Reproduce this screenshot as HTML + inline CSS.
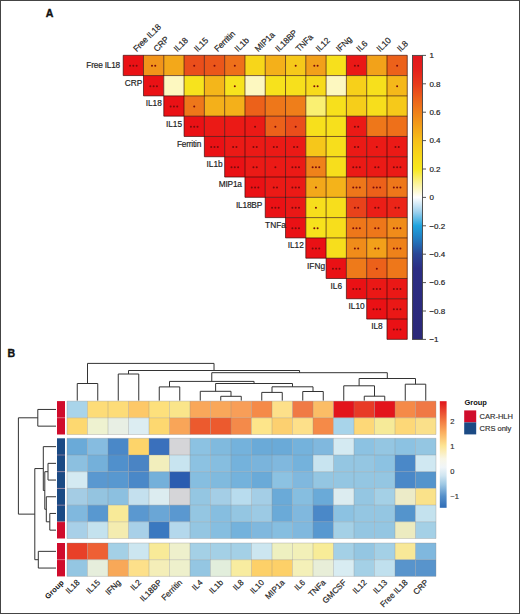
<!DOCTYPE html>
<html><head><meta charset="utf-8"><title>Figure</title>
<style>
html,body{margin:0;padding:0;background:#fff;}
body{width:520px;height:614px;overflow:hidden;}
svg{display:block;font-family:"Liberation Sans", sans-serif;font-kerning:normal;}
text{font-kerning:normal;}
</style></head><body>
<svg width="520" height="614" viewBox="0 0 520 614">
<rect x="0" y="0" width="520" height="614" fill="#fff"/>
<rect x="123.20" y="55.30" width="20.29" height="20.29" fill="#ea1115" />
<rect x="143.49" y="55.30" width="20.29" height="20.29" fill="#f1941a" />
<rect x="163.78" y="55.30" width="20.29" height="20.29" fill="#f3a81a" />
<rect x="184.07" y="55.30" width="20.29" height="20.29" fill="#ea4e1b" />
<rect x="204.36" y="55.30" width="20.29" height="20.29" fill="#eb561a" />
<rect x="224.65" y="55.30" width="20.29" height="20.29" fill="#ee701a" />
<rect x="244.94" y="55.30" width="20.29" height="20.29" fill="#f7d61a" />
<rect x="265.23" y="55.30" width="20.29" height="20.29" fill="#f4b01a" />
<rect x="285.52" y="55.30" width="20.29" height="20.29" fill="#f6c91a" />
<rect x="305.81" y="55.30" width="20.29" height="20.29" fill="#f2a01a" />
<rect x="326.10" y="55.30" width="20.29" height="20.29" fill="#f7e01c" />
<rect x="346.39" y="55.30" width="20.29" height="20.29" fill="#ea1816" />
<rect x="366.68" y="55.30" width="20.29" height="20.29" fill="#f2a21a" />
<rect x="386.97" y="55.30" width="20.29" height="20.29" fill="#ec611a" />
<rect x="143.49" y="75.59" width="20.29" height="20.29" fill="#ea1115" />
<rect x="163.78" y="75.59" width="20.29" height="20.29" fill="#fdf8c0" />
<rect x="184.07" y="75.59" width="20.29" height="20.29" fill="#f7e31d" />
<rect x="204.36" y="75.59" width="20.29" height="20.29" fill="#f4b61a" />
<rect x="224.65" y="75.59" width="20.29" height="20.29" fill="#f7e31d" />
<rect x="244.94" y="75.59" width="20.29" height="20.29" fill="#fdf8c0" />
<rect x="265.23" y="75.59" width="20.29" height="20.29" fill="#f7e21c" />
<rect x="285.52" y="75.59" width="20.29" height="20.29" fill="#f7e01c" />
<rect x="305.81" y="75.59" width="20.29" height="20.29" fill="#f7db1b" />
<rect x="326.10" y="75.59" width="20.29" height="20.29" fill="#fdf8c0" />
<rect x="346.39" y="75.59" width="20.29" height="20.29" fill="#f7d01a" />
<rect x="366.68" y="75.59" width="20.29" height="20.29" fill="#f7e01c" />
<rect x="386.97" y="75.59" width="20.29" height="20.29" fill="#f5b81a" />
<rect x="163.78" y="95.88" width="20.29" height="20.29" fill="#ea1115" />
<rect x="184.07" y="95.88" width="20.29" height="20.29" fill="#ee771a" />
<rect x="204.36" y="95.88" width="20.29" height="20.29" fill="#f4b01a" />
<rect x="224.65" y="95.88" width="20.29" height="20.29" fill="#f4b01a" />
<rect x="244.94" y="95.88" width="20.29" height="20.29" fill="#ec611a" />
<rect x="265.23" y="95.88" width="20.29" height="20.29" fill="#ee771a" />
<rect x="285.52" y="95.88" width="20.29" height="20.29" fill="#ef7e1a" />
<rect x="305.81" y="95.88" width="20.29" height="20.29" fill="#faf072" />
<rect x="326.10" y="95.88" width="20.29" height="20.29" fill="#f7e01c" />
<rect x="346.39" y="95.88" width="20.29" height="20.29" fill="#f6ce1a" />
<rect x="366.68" y="95.88" width="20.29" height="20.29" fill="#f7de1c" />
<rect x="386.97" y="95.88" width="20.29" height="20.29" fill="#f6c91a" />
<rect x="184.07" y="116.17" width="20.29" height="20.29" fill="#ea1115" />
<rect x="204.36" y="116.17" width="20.29" height="20.29" fill="#eb1a16" />
<rect x="224.65" y="116.17" width="20.29" height="20.29" fill="#eb1a16" />
<rect x="244.94" y="116.17" width="20.29" height="20.29" fill="#eb1a16" />
<rect x="265.23" y="116.17" width="20.29" height="20.29" fill="#ec611a" />
<rect x="285.52" y="116.17" width="20.29" height="20.29" fill="#ea4e1b" />
<rect x="305.81" y="116.17" width="20.29" height="20.29" fill="#f7e01c" />
<rect x="326.10" y="116.17" width="20.29" height="20.29" fill="#f7e01c" />
<rect x="346.39" y="116.17" width="20.29" height="20.29" fill="#eb1a16" />
<rect x="366.68" y="116.17" width="20.29" height="20.29" fill="#ee771a" />
<rect x="386.97" y="116.17" width="20.29" height="20.29" fill="#ee701a" />
<rect x="204.36" y="136.46" width="20.29" height="20.29" fill="#ea1115" />
<rect x="224.65" y="136.46" width="20.29" height="20.29" fill="#eb1a16" />
<rect x="244.94" y="136.46" width="20.29" height="20.29" fill="#eb1a16" />
<rect x="265.23" y="136.46" width="20.29" height="20.29" fill="#eb1a16" />
<rect x="285.52" y="136.46" width="20.29" height="20.29" fill="#eb1a16" />
<rect x="305.81" y="136.46" width="20.29" height="20.29" fill="#f6c71a" />
<rect x="326.10" y="136.46" width="20.29" height="20.29" fill="#f7de1c" />
<rect x="346.39" y="136.46" width="20.29" height="20.29" fill="#eb1a16" />
<rect x="366.68" y="136.46" width="20.29" height="20.29" fill="#eb1a16" />
<rect x="386.97" y="136.46" width="20.29" height="20.29" fill="#eb1a16" />
<rect x="224.65" y="156.75" width="20.29" height="20.29" fill="#ea1115" />
<rect x="244.94" y="156.75" width="20.29" height="20.29" fill="#eb1a16" />
<rect x="265.23" y="156.75" width="20.29" height="20.29" fill="#eb1a16" />
<rect x="285.52" y="156.75" width="20.29" height="20.29" fill="#eb1a16" />
<rect x="305.81" y="156.75" width="20.29" height="20.29" fill="#ef821a" />
<rect x="326.10" y="156.75" width="20.29" height="20.29" fill="#f7de1c" />
<rect x="346.39" y="156.75" width="20.29" height="20.29" fill="#eb1a16" />
<rect x="366.68" y="156.75" width="20.29" height="20.29" fill="#eb1a16" />
<rect x="386.97" y="156.75" width="20.29" height="20.29" fill="#eb1a16" />
<rect x="244.94" y="177.04" width="20.29" height="20.29" fill="#ea1115" />
<rect x="265.23" y="177.04" width="20.29" height="20.29" fill="#eb1a16" />
<rect x="285.52" y="177.04" width="20.29" height="20.29" fill="#eb1a16" />
<rect x="305.81" y="177.04" width="20.29" height="20.29" fill="#f3a81a" />
<rect x="326.10" y="177.04" width="20.29" height="20.29" fill="#f4b31a" />
<rect x="346.39" y="177.04" width="20.29" height="20.29" fill="#ee771a" />
<rect x="366.68" y="177.04" width="20.29" height="20.29" fill="#ec611a" />
<rect x="386.97" y="177.04" width="20.29" height="20.29" fill="#ee771a" />
<rect x="265.23" y="197.33" width="20.29" height="20.29" fill="#ea1115" />
<rect x="285.52" y="197.33" width="20.29" height="20.29" fill="#ea1816" />
<rect x="305.81" y="197.33" width="20.29" height="20.29" fill="#f7de1c" />
<rect x="326.10" y="197.33" width="20.29" height="20.29" fill="#f7de1c" />
<rect x="346.39" y="197.33" width="20.29" height="20.29" fill="#e9421b" />
<rect x="366.68" y="197.33" width="20.29" height="20.29" fill="#eb1e17" />
<rect x="386.97" y="197.33" width="20.29" height="20.29" fill="#eb2518" />
<rect x="285.52" y="217.62" width="20.29" height="20.29" fill="#ea1115" />
<rect x="305.81" y="217.62" width="20.29" height="20.29" fill="#f7e21c" />
<rect x="326.10" y="217.62" width="20.29" height="20.29" fill="#f7de1c" />
<rect x="346.39" y="217.62" width="20.29" height="20.29" fill="#ee771a" />
<rect x="366.68" y="217.62" width="20.29" height="20.29" fill="#ee771a" />
<rect x="386.97" y="217.62" width="20.29" height="20.29" fill="#f08c1a" />
<rect x="305.81" y="237.91" width="20.29" height="20.29" fill="#ea1115" />
<rect x="326.10" y="237.91" width="20.29" height="20.29" fill="#f7de1c" />
<rect x="346.39" y="237.91" width="20.29" height="20.29" fill="#f08c1a" />
<rect x="366.68" y="237.91" width="20.29" height="20.29" fill="#f2a01a" />
<rect x="386.97" y="237.91" width="20.29" height="20.29" fill="#ef821a" />
<rect x="326.10" y="258.20" width="20.29" height="20.29" fill="#ea1115" />
<rect x="346.39" y="258.20" width="20.29" height="20.29" fill="#ee7a1a" />
<rect x="366.68" y="258.20" width="20.29" height="20.29" fill="#ec611a" />
<rect x="386.97" y="258.20" width="20.29" height="20.29" fill="#ee771a" />
<rect x="346.39" y="278.49" width="20.29" height="20.29" fill="#ea1115" />
<rect x="366.68" y="278.49" width="20.29" height="20.29" fill="#ea1816" />
<rect x="386.97" y="278.49" width="20.29" height="20.29" fill="#ea1816" />
<rect x="366.68" y="298.78" width="20.29" height="20.29" fill="#ea1115" />
<rect x="386.97" y="298.78" width="20.29" height="20.29" fill="#ea1816" />
<rect x="386.97" y="319.07" width="20.29" height="20.29" fill="#ea1115" />
<line x1="123.20" y1="55.30" x2="407.26" y2="55.30" stroke="rgba(40,0,0,0.62)" stroke-width="1" />
<line x1="123.20" y1="75.59" x2="407.26" y2="75.59" stroke="rgba(40,0,0,0.62)" stroke-width="1" />
<line x1="143.49" y1="95.88" x2="407.26" y2="95.88" stroke="rgba(40,0,0,0.62)" stroke-width="1" />
<line x1="163.78" y1="116.17" x2="407.26" y2="116.17" stroke="rgba(40,0,0,0.62)" stroke-width="1" />
<line x1="184.07" y1="136.46" x2="407.26" y2="136.46" stroke="rgba(40,0,0,0.62)" stroke-width="1" />
<line x1="204.36" y1="156.75" x2="407.26" y2="156.75" stroke="rgba(40,0,0,0.62)" stroke-width="1" />
<line x1="224.65" y1="177.04" x2="407.26" y2="177.04" stroke="rgba(40,0,0,0.62)" stroke-width="1" />
<line x1="244.94" y1="197.33" x2="407.26" y2="197.33" stroke="rgba(40,0,0,0.62)" stroke-width="1" />
<line x1="265.23" y1="217.62" x2="407.26" y2="217.62" stroke="rgba(40,0,0,0.62)" stroke-width="1" />
<line x1="285.52" y1="237.91" x2="407.26" y2="237.91" stroke="rgba(40,0,0,0.62)" stroke-width="1" />
<line x1="305.81" y1="258.20" x2="407.26" y2="258.20" stroke="rgba(40,0,0,0.62)" stroke-width="1" />
<line x1="326.10" y1="278.49" x2="407.26" y2="278.49" stroke="rgba(40,0,0,0.62)" stroke-width="1" />
<line x1="346.39" y1="298.78" x2="407.26" y2="298.78" stroke="rgba(40,0,0,0.62)" stroke-width="1" />
<line x1="366.68" y1="319.07" x2="407.26" y2="319.07" stroke="rgba(40,0,0,0.62)" stroke-width="1" />
<line x1="386.97" y1="339.36" x2="407.26" y2="339.36" stroke="rgba(40,0,0,0.62)" stroke-width="1" />
<line x1="123.20" y1="55.30" x2="123.20" y2="75.59" stroke="rgba(40,0,0,0.62)" stroke-width="1" />
<line x1="143.49" y1="55.30" x2="143.49" y2="95.88" stroke="rgba(40,0,0,0.62)" stroke-width="1" />
<line x1="163.78" y1="55.30" x2="163.78" y2="116.17" stroke="rgba(40,0,0,0.62)" stroke-width="1" />
<line x1="184.07" y1="55.30" x2="184.07" y2="136.46" stroke="rgba(40,0,0,0.62)" stroke-width="1" />
<line x1="204.36" y1="55.30" x2="204.36" y2="156.75" stroke="rgba(40,0,0,0.62)" stroke-width="1" />
<line x1="224.65" y1="55.30" x2="224.65" y2="177.04" stroke="rgba(40,0,0,0.62)" stroke-width="1" />
<line x1="244.94" y1="55.30" x2="244.94" y2="197.33" stroke="rgba(40,0,0,0.62)" stroke-width="1" />
<line x1="265.23" y1="55.30" x2="265.23" y2="217.62" stroke="rgba(40,0,0,0.62)" stroke-width="1" />
<line x1="285.52" y1="55.30" x2="285.52" y2="237.91" stroke="rgba(40,0,0,0.62)" stroke-width="1" />
<line x1="305.81" y1="55.30" x2="305.81" y2="258.20" stroke="rgba(40,0,0,0.62)" stroke-width="1" />
<line x1="326.10" y1="55.30" x2="326.10" y2="278.49" stroke="rgba(40,0,0,0.62)" stroke-width="1" />
<line x1="346.39" y1="55.30" x2="346.39" y2="298.78" stroke="rgba(40,0,0,0.62)" stroke-width="1" />
<line x1="366.68" y1="55.30" x2="366.68" y2="319.07" stroke="rgba(40,0,0,0.62)" stroke-width="1" />
<line x1="386.97" y1="55.30" x2="386.97" y2="339.36" stroke="rgba(40,0,0,0.62)" stroke-width="1" />
<line x1="407.26" y1="55.30" x2="407.26" y2="339.36" stroke="rgba(40,0,0,0.62)" stroke-width="1" />
<circle cx="130.04" cy="65.84" r="1.0" fill="#7a0c0c"/>
<circle cx="133.34" cy="65.84" r="1.0" fill="#7a0c0c"/>
<circle cx="136.65" cy="65.84" r="1.0" fill="#7a0c0c"/>
<circle cx="151.98" cy="65.84" r="1.0" fill="#7a0c0c"/>
<circle cx="155.28" cy="65.84" r="1.0" fill="#7a0c0c"/>
<circle cx="194.22" cy="65.84" r="1.0" fill="#7a0c0c"/>
<circle cx="214.50" cy="65.84" r="1.0" fill="#7a0c0c"/>
<circle cx="234.80" cy="65.84" r="1.0" fill="#7a0c0c"/>
<circle cx="295.67" cy="65.84" r="1.0" fill="#7a0c0c"/>
<circle cx="314.31" cy="65.84" r="1.0" fill="#7a0c0c"/>
<circle cx="317.60" cy="65.84" r="1.0" fill="#7a0c0c"/>
<circle cx="354.88" cy="65.84" r="1.0" fill="#7a0c0c"/>
<circle cx="358.18" cy="65.84" r="1.0" fill="#7a0c0c"/>
<circle cx="397.11" cy="65.84" r="1.0" fill="#7a0c0c"/>
<circle cx="150.33" cy="86.14" r="1.0" fill="#7a0c0c"/>
<circle cx="153.63" cy="86.14" r="1.0" fill="#7a0c0c"/>
<circle cx="156.94" cy="86.14" r="1.0" fill="#7a0c0c"/>
<circle cx="234.80" cy="86.14" r="1.0" fill="#7a0c0c"/>
<circle cx="314.31" cy="86.14" r="1.0" fill="#7a0c0c"/>
<circle cx="317.60" cy="86.14" r="1.0" fill="#7a0c0c"/>
<circle cx="397.11" cy="86.14" r="1.0" fill="#7a0c0c"/>
<circle cx="170.62" cy="106.42" r="1.0" fill="#7a0c0c"/>
<circle cx="173.93" cy="106.42" r="1.0" fill="#7a0c0c"/>
<circle cx="177.23" cy="106.42" r="1.0" fill="#7a0c0c"/>
<circle cx="194.22" cy="106.42" r="1.0" fill="#7a0c0c"/>
<circle cx="190.91" cy="126.72" r="1.0" fill="#7a0c0c"/>
<circle cx="194.22" cy="126.72" r="1.0" fill="#7a0c0c"/>
<circle cx="197.52" cy="126.72" r="1.0" fill="#7a0c0c"/>
<circle cx="255.08" cy="126.72" r="1.0" fill="#7a0c0c"/>
<circle cx="275.38" cy="126.72" r="1.0" fill="#7a0c0c"/>
<circle cx="295.67" cy="126.72" r="1.0" fill="#7a0c0c"/>
<circle cx="354.88" cy="126.72" r="1.0" fill="#7a0c0c"/>
<circle cx="358.18" cy="126.72" r="1.0" fill="#7a0c0c"/>
<circle cx="211.20" cy="147.00" r="1.0" fill="#7a0c0c"/>
<circle cx="214.50" cy="147.00" r="1.0" fill="#7a0c0c"/>
<circle cx="217.81" cy="147.00" r="1.0" fill="#7a0c0c"/>
<circle cx="233.15" cy="147.00" r="1.0" fill="#7a0c0c"/>
<circle cx="236.45" cy="147.00" r="1.0" fill="#7a0c0c"/>
<circle cx="253.43" cy="147.00" r="1.0" fill="#7a0c0c"/>
<circle cx="256.73" cy="147.00" r="1.0" fill="#7a0c0c"/>
<circle cx="273.73" cy="147.00" r="1.0" fill="#7a0c0c"/>
<circle cx="277.02" cy="147.00" r="1.0" fill="#7a0c0c"/>
<circle cx="294.02" cy="147.00" r="1.0" fill="#7a0c0c"/>
<circle cx="297.31" cy="147.00" r="1.0" fill="#7a0c0c"/>
<circle cx="354.88" cy="147.00" r="1.0" fill="#7a0c0c"/>
<circle cx="358.18" cy="147.00" r="1.0" fill="#7a0c0c"/>
<circle cx="376.82" cy="147.00" r="1.0" fill="#7a0c0c"/>
<circle cx="395.46" cy="147.00" r="1.0" fill="#7a0c0c"/>
<circle cx="398.76" cy="147.00" r="1.0" fill="#7a0c0c"/>
<circle cx="231.50" cy="167.29" r="1.0" fill="#7a0c0c"/>
<circle cx="234.80" cy="167.29" r="1.0" fill="#7a0c0c"/>
<circle cx="238.10" cy="167.29" r="1.0" fill="#7a0c0c"/>
<circle cx="253.43" cy="167.29" r="1.0" fill="#7a0c0c"/>
<circle cx="256.73" cy="167.29" r="1.0" fill="#7a0c0c"/>
<circle cx="275.38" cy="167.29" r="1.0" fill="#7a0c0c"/>
<circle cx="292.37" cy="167.29" r="1.0" fill="#7a0c0c"/>
<circle cx="295.67" cy="167.29" r="1.0" fill="#7a0c0c"/>
<circle cx="298.97" cy="167.29" r="1.0" fill="#7a0c0c"/>
<circle cx="312.65" cy="167.29" r="1.0" fill="#7a0c0c"/>
<circle cx="315.95" cy="167.29" r="1.0" fill="#7a0c0c"/>
<circle cx="319.25" cy="167.29" r="1.0" fill="#7a0c0c"/>
<circle cx="353.23" cy="167.29" r="1.0" fill="#7a0c0c"/>
<circle cx="356.53" cy="167.29" r="1.0" fill="#7a0c0c"/>
<circle cx="359.83" cy="167.29" r="1.0" fill="#7a0c0c"/>
<circle cx="375.18" cy="167.29" r="1.0" fill="#7a0c0c"/>
<circle cx="378.47" cy="167.29" r="1.0" fill="#7a0c0c"/>
<circle cx="393.81" cy="167.29" r="1.0" fill="#7a0c0c"/>
<circle cx="397.11" cy="167.29" r="1.0" fill="#7a0c0c"/>
<circle cx="400.41" cy="167.29" r="1.0" fill="#7a0c0c"/>
<circle cx="251.78" cy="187.59" r="1.0" fill="#7a0c0c"/>
<circle cx="255.08" cy="187.59" r="1.0" fill="#7a0c0c"/>
<circle cx="258.38" cy="187.59" r="1.0" fill="#7a0c0c"/>
<circle cx="273.73" cy="187.59" r="1.0" fill="#7a0c0c"/>
<circle cx="277.02" cy="187.59" r="1.0" fill="#7a0c0c"/>
<circle cx="292.37" cy="187.59" r="1.0" fill="#7a0c0c"/>
<circle cx="295.67" cy="187.59" r="1.0" fill="#7a0c0c"/>
<circle cx="298.97" cy="187.59" r="1.0" fill="#7a0c0c"/>
<circle cx="315.95" cy="187.59" r="1.0" fill="#7a0c0c"/>
<circle cx="353.23" cy="187.59" r="1.0" fill="#7a0c0c"/>
<circle cx="356.53" cy="187.59" r="1.0" fill="#7a0c0c"/>
<circle cx="359.83" cy="187.59" r="1.0" fill="#7a0c0c"/>
<circle cx="373.52" cy="187.59" r="1.0" fill="#7a0c0c"/>
<circle cx="376.82" cy="187.59" r="1.0" fill="#7a0c0c"/>
<circle cx="380.12" cy="187.59" r="1.0" fill="#7a0c0c"/>
<circle cx="393.81" cy="187.59" r="1.0" fill="#7a0c0c"/>
<circle cx="397.11" cy="187.59" r="1.0" fill="#7a0c0c"/>
<circle cx="400.41" cy="187.59" r="1.0" fill="#7a0c0c"/>
<circle cx="272.07" cy="207.87" r="1.0" fill="#7a0c0c"/>
<circle cx="275.38" cy="207.87" r="1.0" fill="#7a0c0c"/>
<circle cx="278.68" cy="207.87" r="1.0" fill="#7a0c0c"/>
<circle cx="292.37" cy="207.87" r="1.0" fill="#7a0c0c"/>
<circle cx="295.67" cy="207.87" r="1.0" fill="#7a0c0c"/>
<circle cx="298.97" cy="207.87" r="1.0" fill="#7a0c0c"/>
<circle cx="315.95" cy="207.87" r="1.0" fill="#7a0c0c"/>
<circle cx="354.88" cy="207.87" r="1.0" fill="#7a0c0c"/>
<circle cx="358.18" cy="207.87" r="1.0" fill="#7a0c0c"/>
<circle cx="375.18" cy="207.87" r="1.0" fill="#7a0c0c"/>
<circle cx="378.47" cy="207.87" r="1.0" fill="#7a0c0c"/>
<circle cx="395.46" cy="207.87" r="1.0" fill="#7a0c0c"/>
<circle cx="398.76" cy="207.87" r="1.0" fill="#7a0c0c"/>
<circle cx="292.37" cy="228.16" r="1.0" fill="#7a0c0c"/>
<circle cx="295.67" cy="228.16" r="1.0" fill="#7a0c0c"/>
<circle cx="298.97" cy="228.16" r="1.0" fill="#7a0c0c"/>
<circle cx="314.31" cy="228.16" r="1.0" fill="#7a0c0c"/>
<circle cx="317.60" cy="228.16" r="1.0" fill="#7a0c0c"/>
<circle cx="353.23" cy="228.16" r="1.0" fill="#7a0c0c"/>
<circle cx="356.53" cy="228.16" r="1.0" fill="#7a0c0c"/>
<circle cx="359.83" cy="228.16" r="1.0" fill="#7a0c0c"/>
<circle cx="375.18" cy="228.16" r="1.0" fill="#7a0c0c"/>
<circle cx="378.47" cy="228.16" r="1.0" fill="#7a0c0c"/>
<circle cx="393.81" cy="228.16" r="1.0" fill="#7a0c0c"/>
<circle cx="397.11" cy="228.16" r="1.0" fill="#7a0c0c"/>
<circle cx="400.41" cy="228.16" r="1.0" fill="#7a0c0c"/>
<circle cx="312.65" cy="248.46" r="1.0" fill="#7a0c0c"/>
<circle cx="315.95" cy="248.46" r="1.0" fill="#7a0c0c"/>
<circle cx="319.25" cy="248.46" r="1.0" fill="#7a0c0c"/>
<circle cx="354.88" cy="248.46" r="1.0" fill="#7a0c0c"/>
<circle cx="358.18" cy="248.46" r="1.0" fill="#7a0c0c"/>
<circle cx="375.18" cy="248.46" r="1.0" fill="#7a0c0c"/>
<circle cx="378.47" cy="248.46" r="1.0" fill="#7a0c0c"/>
<circle cx="393.81" cy="248.46" r="1.0" fill="#7a0c0c"/>
<circle cx="397.11" cy="248.46" r="1.0" fill="#7a0c0c"/>
<circle cx="400.41" cy="248.46" r="1.0" fill="#7a0c0c"/>
<circle cx="332.94" cy="268.74" r="1.0" fill="#7a0c0c"/>
<circle cx="336.25" cy="268.74" r="1.0" fill="#7a0c0c"/>
<circle cx="339.55" cy="268.74" r="1.0" fill="#7a0c0c"/>
<circle cx="376.82" cy="268.74" r="1.0" fill="#7a0c0c"/>
<circle cx="353.23" cy="289.03" r="1.0" fill="#7a0c0c"/>
<circle cx="356.53" cy="289.03" r="1.0" fill="#7a0c0c"/>
<circle cx="359.83" cy="289.03" r="1.0" fill="#7a0c0c"/>
<circle cx="373.52" cy="289.03" r="1.0" fill="#7a0c0c"/>
<circle cx="376.82" cy="289.03" r="1.0" fill="#7a0c0c"/>
<circle cx="380.12" cy="289.03" r="1.0" fill="#7a0c0c"/>
<circle cx="393.81" cy="289.03" r="1.0" fill="#7a0c0c"/>
<circle cx="397.11" cy="289.03" r="1.0" fill="#7a0c0c"/>
<circle cx="400.41" cy="289.03" r="1.0" fill="#7a0c0c"/>
<circle cx="373.52" cy="309.32" r="1.0" fill="#7a0c0c"/>
<circle cx="376.82" cy="309.32" r="1.0" fill="#7a0c0c"/>
<circle cx="380.12" cy="309.32" r="1.0" fill="#7a0c0c"/>
<circle cx="393.81" cy="309.32" r="1.0" fill="#7a0c0c"/>
<circle cx="397.11" cy="309.32" r="1.0" fill="#7a0c0c"/>
<circle cx="400.41" cy="309.32" r="1.0" fill="#7a0c0c"/>
<circle cx="393.81" cy="329.61" r="1.0" fill="#7a0c0c"/>
<circle cx="397.11" cy="329.61" r="1.0" fill="#7a0c0c"/>
<circle cx="400.41" cy="329.61" r="1.0" fill="#7a0c0c"/>
<text x="120.00" y="68.34" font-size="8.3" fill="#222" text-anchor="end" font-weight="normal" stroke="#222" stroke-width="0.18" letter-spacing="-0.2">Free IL18</text>
<text x="133.44" y="85.98" font-size="8.3" fill="#222" text-anchor="middle" font-weight="normal" stroke="#222" stroke-width="0.18" >CRP</text>
<text x="153.73" y="106.27" font-size="8.3" fill="#222" text-anchor="middle" font-weight="normal" stroke="#222" stroke-width="0.18" >IL18</text>
<text x="174.03" y="126.56" font-size="8.3" fill="#222" text-anchor="middle" font-weight="normal" stroke="#222" stroke-width="0.18" >IL15</text>
<text x="201.16" y="146.85" font-size="8.3" fill="#222" text-anchor="end" font-weight="normal" stroke="#222" stroke-width="0.18" letter-spacing="-0.2">Ferritin</text>
<text x="214.60" y="167.14" font-size="8.3" fill="#222" text-anchor="middle" font-weight="normal" stroke="#222" stroke-width="0.18" >IL1b</text>
<text x="241.74" y="187.44" font-size="8.3" fill="#222" text-anchor="end" font-weight="normal" stroke="#222" stroke-width="0.18" letter-spacing="-0.2">MIP1a</text>
<text x="262.03" y="207.72" font-size="8.3" fill="#222" text-anchor="end" font-weight="normal" stroke="#222" stroke-width="0.18" letter-spacing="-0.2">IL18BP</text>
<text x="275.48" y="228.01" font-size="8.3" fill="#222" text-anchor="middle" font-weight="normal" stroke="#222" stroke-width="0.18" >TNFa</text>
<text x="295.77" y="248.31" font-size="8.3" fill="#222" text-anchor="middle" font-weight="normal" stroke="#222" stroke-width="0.18" >IL12</text>
<text x="316.06" y="268.59" font-size="8.3" fill="#222" text-anchor="middle" font-weight="normal" stroke="#222" stroke-width="0.18" >IFNg</text>
<text x="336.35" y="288.88" font-size="8.3" fill="#222" text-anchor="middle" font-weight="normal" stroke="#222" stroke-width="0.18" >IL6</text>
<text x="356.63" y="309.18" font-size="8.3" fill="#222" text-anchor="middle" font-weight="normal" stroke="#222" stroke-width="0.18" >IL10</text>
<text x="376.93" y="329.46" font-size="8.3" fill="#222" text-anchor="middle" font-weight="normal" stroke="#222" stroke-width="0.18" >IL8</text>
<text x="136.65" y="52.30" font-size="8.5" fill="#222" text-anchor="start" font-weight="normal" stroke="#222" stroke-width="0.18" transform="rotate(-45 136.65 52.30)" letter-spacing="-0.15">Free IL18</text>
<text x="156.94" y="52.30" font-size="8.5" fill="#222" text-anchor="start" font-weight="normal" stroke="#222" stroke-width="0.18" transform="rotate(-45 156.94 52.30)" letter-spacing="-0.15">CRP</text>
<text x="177.23" y="52.30" font-size="8.5" fill="#222" text-anchor="start" font-weight="normal" stroke="#222" stroke-width="0.18" transform="rotate(-45 177.23 52.30)" letter-spacing="-0.15">IL18</text>
<text x="197.52" y="52.30" font-size="8.5" fill="#222" text-anchor="start" font-weight="normal" stroke="#222" stroke-width="0.18" transform="rotate(-45 197.52 52.30)" letter-spacing="-0.15">IL15</text>
<text x="217.81" y="52.30" font-size="8.5" fill="#222" text-anchor="start" font-weight="normal" stroke="#222" stroke-width="0.18" transform="rotate(-45 217.81 52.30)" letter-spacing="-0.15">Ferritin</text>
<text x="238.10" y="52.30" font-size="8.5" fill="#222" text-anchor="start" font-weight="normal" stroke="#222" stroke-width="0.18" transform="rotate(-45 238.10 52.30)" letter-spacing="-0.15">IL1b</text>
<text x="258.38" y="52.30" font-size="8.5" fill="#222" text-anchor="start" font-weight="normal" stroke="#222" stroke-width="0.18" transform="rotate(-45 258.38 52.30)" letter-spacing="-0.15">MIP1a</text>
<text x="278.68" y="52.30" font-size="8.5" fill="#222" text-anchor="start" font-weight="normal" stroke="#222" stroke-width="0.18" transform="rotate(-45 278.68 52.30)" letter-spacing="-0.15">IL18BP</text>
<text x="298.97" y="52.30" font-size="8.5" fill="#222" text-anchor="start" font-weight="normal" stroke="#222" stroke-width="0.18" transform="rotate(-45 298.97 52.30)" letter-spacing="-0.15">TNFa</text>
<text x="319.25" y="52.30" font-size="8.5" fill="#222" text-anchor="start" font-weight="normal" stroke="#222" stroke-width="0.18" transform="rotate(-45 319.25 52.30)" letter-spacing="-0.15">IL12</text>
<text x="339.55" y="52.30" font-size="8.5" fill="#222" text-anchor="start" font-weight="normal" stroke="#222" stroke-width="0.18" transform="rotate(-45 339.55 52.30)" letter-spacing="-0.15">IFNg</text>
<text x="359.83" y="52.30" font-size="8.5" fill="#222" text-anchor="start" font-weight="normal" stroke="#222" stroke-width="0.18" transform="rotate(-45 359.83 52.30)" letter-spacing="-0.15">IL6</text>
<text x="380.12" y="52.30" font-size="8.5" fill="#222" text-anchor="start" font-weight="normal" stroke="#222" stroke-width="0.18" transform="rotate(-45 380.12 52.30)" letter-spacing="-0.15">IL10</text>
<text x="400.41" y="52.30" font-size="8.5" fill="#222" text-anchor="start" font-weight="normal" stroke="#222" stroke-width="0.18" transform="rotate(-45 400.41 52.30)" letter-spacing="-0.15">IL8</text>
<defs><linearGradient id="gA" x1="0" y1="0" x2="0" y2="1"><stop offset="0.000" stop-color="#e2161e"/><stop offset="0.050" stop-color="#e5201c"/><stop offset="0.100" stop-color="#e73a1c"/><stop offset="0.150" stop-color="#eb5f1b"/><stop offset="0.200" stop-color="#ef801a"/><stop offset="0.250" stop-color="#f2a01a"/><stop offset="0.300" stop-color="#f6c01a"/><stop offset="0.350" stop-color="#f7d61a"/><stop offset="0.400" stop-color="#f7e81e"/><stop offset="0.450" stop-color="#fbf396"/><stop offset="0.500" stop-color="#ffffff"/><stop offset="0.550" stop-color="#a0d2ee"/><stop offset="0.600" stop-color="#1ea3de"/><stop offset="0.650" stop-color="#2278be"/><stop offset="0.700" stop-color="#2a4696"/><stop offset="0.750" stop-color="#2c2e84"/><stop offset="1.000" stop-color="#2b2878"/></linearGradient><linearGradient id="gB" x1="0" y1="0" x2="0" y2="1">
<stop offset="0" stop-color="#e0141c"/>
<stop offset="0.185" stop-color="#f27a42"/>
<stop offset="0.30" stop-color="#fbb262"/>
<stop offset="0.42" stop-color="#fde594"/>
<stop offset="0.54" stop-color="#f8f6e6"/>
<stop offset="0.62" stop-color="#f0f5f8"/>
<stop offset="0.70" stop-color="#cfe5f1"/>
<stop offset="0.78" stop-color="#9ec8e4"/>
<stop offset="0.89" stop-color="#5590ca"/>
<stop offset="1" stop-color="#2f6cb6"/>
</linearGradient></defs>
<rect x="412.50" y="55.40" width="10.00" height="284.00" fill="url(#gA)" stroke="#444" stroke-width="0.9"/>
<line x1="422.50" y1="55.40" x2="426.00" y2="55.40" stroke="#444" stroke-width="0.9" />
<text x="429.40" y="58.25" font-size="8.0" fill="#222" text-anchor="start" font-weight="normal" stroke="#222" stroke-width="0.18" >1</text>
<line x1="422.50" y1="83.80" x2="426.00" y2="83.80" stroke="#444" stroke-width="0.9" />
<text x="429.40" y="86.65" font-size="8.0" fill="#222" text-anchor="start" font-weight="normal" stroke="#222" stroke-width="0.18" >0.8</text>
<line x1="422.50" y1="112.20" x2="426.00" y2="112.20" stroke="#444" stroke-width="0.9" />
<text x="429.40" y="115.05" font-size="8.0" fill="#222" text-anchor="start" font-weight="normal" stroke="#222" stroke-width="0.18" >0.6</text>
<line x1="422.50" y1="140.60" x2="426.00" y2="140.60" stroke="#444" stroke-width="0.9" />
<text x="429.40" y="143.45" font-size="8.0" fill="#222" text-anchor="start" font-weight="normal" stroke="#222" stroke-width="0.18" >0.4</text>
<line x1="422.50" y1="169.00" x2="426.00" y2="169.00" stroke="#444" stroke-width="0.9" />
<text x="429.40" y="171.85" font-size="8.0" fill="#222" text-anchor="start" font-weight="normal" stroke="#222" stroke-width="0.18" >0.2</text>
<line x1="422.50" y1="197.40" x2="426.00" y2="197.40" stroke="#444" stroke-width="0.9" />
<text x="429.40" y="200.25" font-size="8.0" fill="#222" text-anchor="start" font-weight="normal" stroke="#222" stroke-width="0.18" >0</text>
<line x1="422.50" y1="225.80" x2="426.00" y2="225.80" stroke="#444" stroke-width="0.9" />
<text x="429.40" y="228.65" font-size="8.0" fill="#222" text-anchor="start" font-weight="normal" stroke="#222" stroke-width="0.18" >−0.2</text>
<line x1="422.50" y1="254.20" x2="426.00" y2="254.20" stroke="#444" stroke-width="0.9" />
<text x="429.40" y="257.05" font-size="8.0" fill="#222" text-anchor="start" font-weight="normal" stroke="#222" stroke-width="0.18" >−0.4</text>
<line x1="422.50" y1="282.60" x2="426.00" y2="282.60" stroke="#444" stroke-width="0.9" />
<text x="429.40" y="285.45" font-size="8.0" fill="#222" text-anchor="start" font-weight="normal" stroke="#222" stroke-width="0.18" >−0.6</text>
<line x1="422.50" y1="311.00" x2="426.00" y2="311.00" stroke="#444" stroke-width="0.9" />
<text x="429.40" y="313.85" font-size="8.0" fill="#222" text-anchor="start" font-weight="normal" stroke="#222" stroke-width="0.18" >−0.8</text>
<line x1="422.50" y1="339.40" x2="426.00" y2="339.40" stroke="#444" stroke-width="0.9" />
<text x="429.40" y="342.25" font-size="8.0" fill="#222" text-anchor="start" font-weight="normal" stroke="#222" stroke-width="0.18" >−1</text>
<text x="45.70" y="16.90" font-size="10.6" fill="#111" text-anchor="start" font-weight="bold" stroke="#111" stroke-width="0.35">A</text>
<text x="7.40" y="357.00" font-size="10.6" fill="#111" text-anchor="start" font-weight="bold" stroke="#111" stroke-width="0.35">B</text>
<rect x="67.00" y="401.10" width="20.50" height="16.70" fill="#a9d4ea" />
<rect x="87.50" y="401.10" width="20.50" height="16.70" fill="#fddc78" />
<rect x="108.00" y="401.10" width="20.50" height="16.70" fill="#fddc78" />
<rect x="128.50" y="401.10" width="20.50" height="16.70" fill="#fdc868" />
<rect x="149.00" y="401.10" width="20.50" height="16.70" fill="#fde07c" />
<rect x="169.50" y="401.10" width="20.50" height="16.70" fill="#fae58a" />
<rect x="190.00" y="401.10" width="20.50" height="16.70" fill="#f9a75a" />
<rect x="210.50" y="401.10" width="20.50" height="16.70" fill="#f9a75a" />
<rect x="231.00" y="401.10" width="20.50" height="16.70" fill="#f89e58" />
<rect x="251.50" y="401.10" width="20.50" height="16.70" fill="#f58a48" />
<rect x="272.00" y="401.10" width="20.50" height="16.70" fill="#fde08a" />
<rect x="292.50" y="401.10" width="20.50" height="16.70" fill="#f07a45" />
<rect x="313.00" y="401.10" width="20.50" height="16.70" fill="#fbbd66" />
<rect x="333.50" y="401.10" width="20.50" height="16.70" fill="#e3141c" />
<rect x="354.00" y="401.10" width="20.50" height="16.70" fill="#e83a26" />
<rect x="374.50" y="401.10" width="20.50" height="16.70" fill="#e3141c" />
<rect x="395.00" y="401.10" width="20.50" height="16.70" fill="#f58a48" />
<rect x="415.50" y="401.10" width="20.50" height="16.70" fill="#f07845" />
<rect x="57.00" y="401.10" width="8.00" height="16.70" fill="#d00c2c" />
<rect x="67.00" y="417.80" width="20.50" height="16.70" fill="#fdd870" />
<rect x="87.50" y="417.80" width="20.50" height="16.70" fill="#eef2d0" />
<rect x="108.00" y="417.80" width="20.50" height="16.70" fill="#e8efe4" />
<rect x="128.50" y="417.80" width="20.50" height="16.70" fill="#dcedf2" />
<rect x="149.00" y="417.80" width="20.50" height="16.70" fill="#fdd870" />
<rect x="169.50" y="417.80" width="20.50" height="16.70" fill="#f9a558" />
<rect x="190.00" y="417.80" width="20.50" height="16.70" fill="#ec5a2e" />
<rect x="210.50" y="417.80" width="20.50" height="16.70" fill="#ec5a2e" />
<rect x="231.00" y="417.80" width="20.50" height="16.70" fill="#f48a4a" />
<rect x="251.50" y="417.80" width="20.50" height="16.70" fill="#fde58a" />
<rect x="272.00" y="417.80" width="20.50" height="16.70" fill="#fcd070" />
<rect x="292.50" y="417.80" width="20.50" height="16.70" fill="#fde08a" />
<rect x="313.00" y="417.80" width="20.50" height="16.70" fill="#f58a48" />
<rect x="333.50" y="417.80" width="20.50" height="16.70" fill="#a8d4ea" />
<rect x="354.00" y="417.80" width="20.50" height="16.70" fill="#fdd878" />
<rect x="374.50" y="417.80" width="20.50" height="16.70" fill="#f6ea98" />
<rect x="395.00" y="417.80" width="20.50" height="16.70" fill="#fdd878" />
<rect x="415.50" y="417.80" width="20.50" height="16.70" fill="#fae08a" />
<rect x="57.00" y="417.80" width="8.00" height="16.70" fill="#d00c2c" />
<line x1="67.00" y1="401.10" x2="436.00" y2="401.10" stroke="rgba(140,140,140,0.42)" stroke-width="0.8" />
<line x1="57.00" y1="401.10" x2="65.00" y2="401.10" stroke="rgba(255,255,255,0)" stroke-width="0.8" />
<line x1="67.00" y1="417.80" x2="436.00" y2="417.80" stroke="rgba(140,140,140,0.42)" stroke-width="0.8" />
<line x1="57.00" y1="417.80" x2="65.00" y2="417.80" stroke="rgba(230,160,170,0.6)" stroke-width="0.8" />
<line x1="67.00" y1="434.50" x2="436.00" y2="434.50" stroke="rgba(140,140,140,0.42)" stroke-width="0.8" />
<line x1="57.00" y1="434.50" x2="65.00" y2="434.50" stroke="rgba(255,255,255,0)" stroke-width="0.8" />
<line x1="67.00" y1="401.10" x2="67.00" y2="434.50" stroke="rgba(140,140,140,0.42)" stroke-width="0.8" />
<line x1="87.50" y1="401.10" x2="87.50" y2="434.50" stroke="rgba(140,140,140,0.42)" stroke-width="0.8" />
<line x1="108.00" y1="401.10" x2="108.00" y2="434.50" stroke="rgba(140,140,140,0.42)" stroke-width="0.8" />
<line x1="128.50" y1="401.10" x2="128.50" y2="434.50" stroke="rgba(140,140,140,0.42)" stroke-width="0.8" />
<line x1="149.00" y1="401.10" x2="149.00" y2="434.50" stroke="rgba(140,140,140,0.42)" stroke-width="0.8" />
<line x1="169.50" y1="401.10" x2="169.50" y2="434.50" stroke="rgba(140,140,140,0.42)" stroke-width="0.8" />
<line x1="190.00" y1="401.10" x2="190.00" y2="434.50" stroke="rgba(140,140,140,0.42)" stroke-width="0.8" />
<line x1="210.50" y1="401.10" x2="210.50" y2="434.50" stroke="rgba(140,140,140,0.42)" stroke-width="0.8" />
<line x1="231.00" y1="401.10" x2="231.00" y2="434.50" stroke="rgba(140,140,140,0.42)" stroke-width="0.8" />
<line x1="251.50" y1="401.10" x2="251.50" y2="434.50" stroke="rgba(140,140,140,0.42)" stroke-width="0.8" />
<line x1="272.00" y1="401.10" x2="272.00" y2="434.50" stroke="rgba(140,140,140,0.42)" stroke-width="0.8" />
<line x1="292.50" y1="401.10" x2="292.50" y2="434.50" stroke="rgba(140,140,140,0.42)" stroke-width="0.8" />
<line x1="313.00" y1="401.10" x2="313.00" y2="434.50" stroke="rgba(140,140,140,0.42)" stroke-width="0.8" />
<line x1="333.50" y1="401.10" x2="333.50" y2="434.50" stroke="rgba(140,140,140,0.42)" stroke-width="0.8" />
<line x1="354.00" y1="401.10" x2="354.00" y2="434.50" stroke="rgba(140,140,140,0.42)" stroke-width="0.8" />
<line x1="374.50" y1="401.10" x2="374.50" y2="434.50" stroke="rgba(140,140,140,0.42)" stroke-width="0.8" />
<line x1="395.00" y1="401.10" x2="395.00" y2="434.50" stroke="rgba(140,140,140,0.42)" stroke-width="0.8" />
<line x1="415.50" y1="401.10" x2="415.50" y2="434.50" stroke="rgba(140,140,140,0.42)" stroke-width="0.8" />
<line x1="436.00" y1="401.10" x2="436.00" y2="434.50" stroke="rgba(140,140,140,0.42)" stroke-width="0.8" />
<rect x="67.00" y="438.30" width="20.50" height="16.70" fill="#6aaad8" />
<rect x="87.50" y="438.30" width="20.50" height="16.70" fill="#86bce0" />
<rect x="108.00" y="438.30" width="20.50" height="16.70" fill="#4a88c8" />
<rect x="128.50" y="438.30" width="20.50" height="16.70" fill="#fdd46a" />
<rect x="149.00" y="438.30" width="20.50" height="16.70" fill="#3a70bc" />
<rect x="169.50" y="438.30" width="20.50" height="16.70" fill="#d5d5d8" />
<rect x="190.00" y="438.30" width="20.50" height="16.70" fill="#8cc2e2" />
<rect x="210.50" y="438.30" width="20.50" height="16.70" fill="#80bade" />
<rect x="231.00" y="438.30" width="20.50" height="16.70" fill="#74b2dc" />
<rect x="251.50" y="438.30" width="20.50" height="16.70" fill="#6aaad8" />
<rect x="272.00" y="438.30" width="20.50" height="16.70" fill="#6aaad8" />
<rect x="292.50" y="438.30" width="20.50" height="16.70" fill="#74b2dc" />
<rect x="313.00" y="438.30" width="20.50" height="16.70" fill="#80b8de" />
<rect x="333.50" y="438.30" width="20.50" height="16.70" fill="#d4eaf2" />
<rect x="354.00" y="438.30" width="20.50" height="16.70" fill="#8cc2e2" />
<rect x="374.50" y="438.30" width="20.50" height="16.70" fill="#94c6e2" />
<rect x="395.00" y="438.30" width="20.50" height="16.70" fill="#8cc2e2" />
<rect x="415.50" y="438.30" width="20.50" height="16.70" fill="#94c6e2" />
<rect x="57.00" y="438.30" width="8.00" height="16.70" fill="#1b4a84" />
<rect x="67.00" y="455.00" width="20.50" height="16.70" fill="#8cc0e0" />
<rect x="87.50" y="455.00" width="20.50" height="16.70" fill="#74b0da" />
<rect x="108.00" y="455.00" width="20.50" height="16.70" fill="#5090cc" />
<rect x="128.50" y="455.00" width="20.50" height="16.70" fill="#4a84c4" />
<rect x="149.00" y="455.00" width="20.50" height="16.70" fill="#f2eebc" />
<rect x="169.50" y="455.00" width="20.50" height="16.70" fill="#c8e4f0" />
<rect x="190.00" y="455.00" width="20.50" height="16.70" fill="#8cc2e2" />
<rect x="210.50" y="455.00" width="20.50" height="16.70" fill="#86bee0" />
<rect x="231.00" y="455.00" width="20.50" height="16.70" fill="#74b2dc" />
<rect x="251.50" y="455.00" width="20.50" height="16.70" fill="#7ab4dc" />
<rect x="272.00" y="455.00" width="20.50" height="16.70" fill="#80b8de" />
<rect x="292.50" y="455.00" width="20.50" height="16.70" fill="#74b2dc" />
<rect x="313.00" y="455.00" width="20.50" height="16.70" fill="#c8e4f0" />
<rect x="333.50" y="455.00" width="20.50" height="16.70" fill="#94c6e2" />
<rect x="354.00" y="455.00" width="20.50" height="16.70" fill="#94c6e2" />
<rect x="374.50" y="455.00" width="20.50" height="16.70" fill="#8cc2e2" />
<rect x="395.00" y="455.00" width="20.50" height="16.70" fill="#4a88c8" />
<rect x="415.50" y="455.00" width="20.50" height="16.70" fill="#d0e8f2" />
<rect x="57.00" y="455.00" width="8.00" height="16.70" fill="#1b4a84" />
<rect x="67.00" y="471.70" width="20.50" height="16.70" fill="#d4eaf2" />
<rect x="87.50" y="471.70" width="20.50" height="16.70" fill="#5a98d0" />
<rect x="108.00" y="471.70" width="20.50" height="16.70" fill="#5898d0" />
<rect x="128.50" y="471.70" width="20.50" height="16.70" fill="#4a88c8" />
<rect x="149.00" y="471.70" width="20.50" height="16.70" fill="#74b0da" />
<rect x="169.50" y="471.70" width="20.50" height="16.70" fill="#2a5cb0" />
<rect x="190.00" y="471.70" width="20.50" height="16.70" fill="#86bee0" />
<rect x="210.50" y="471.70" width="20.50" height="16.70" fill="#80bade" />
<rect x="231.00" y="471.70" width="20.50" height="16.70" fill="#74b2dc" />
<rect x="251.50" y="471.70" width="20.50" height="16.70" fill="#6aaad8" />
<rect x="272.00" y="471.70" width="20.50" height="16.70" fill="#8cc2e2" />
<rect x="292.50" y="471.70" width="20.50" height="16.70" fill="#80b8de" />
<rect x="313.00" y="471.70" width="20.50" height="16.70" fill="#94c6e2" />
<rect x="333.50" y="471.70" width="20.50" height="16.70" fill="#94c6e2" />
<rect x="354.00" y="471.70" width="20.50" height="16.70" fill="#94c6e2" />
<rect x="374.50" y="471.70" width="20.50" height="16.70" fill="#94c6e2" />
<rect x="395.00" y="471.70" width="20.50" height="16.70" fill="#4a88c8" />
<rect x="415.50" y="471.70" width="20.50" height="16.70" fill="#5494cc" />
<rect x="57.00" y="471.70" width="8.00" height="16.70" fill="#1b4a84" />
<rect x="67.00" y="488.40" width="20.50" height="16.70" fill="#a4cce4" />
<rect x="87.50" y="488.40" width="20.50" height="16.70" fill="#94c4e0" />
<rect x="108.00" y="488.40" width="20.50" height="16.70" fill="#8cc0e0" />
<rect x="128.50" y="488.40" width="20.50" height="16.70" fill="#c4e0ee" />
<rect x="149.00" y="488.40" width="20.50" height="16.70" fill="#dcecf0" />
<rect x="169.50" y="488.40" width="20.50" height="16.70" fill="#d5d5d8" />
<rect x="190.00" y="488.40" width="20.50" height="16.70" fill="#94c6e2" />
<rect x="210.50" y="488.40" width="20.50" height="16.70" fill="#a4cee6" />
<rect x="231.00" y="488.40" width="20.50" height="16.70" fill="#b8dcee" />
<rect x="251.50" y="488.40" width="20.50" height="16.70" fill="#a4cee6" />
<rect x="272.00" y="488.40" width="20.50" height="16.70" fill="#6aaad8" />
<rect x="292.50" y="488.40" width="20.50" height="16.70" fill="#86bee0" />
<rect x="313.00" y="488.40" width="20.50" height="16.70" fill="#6aaad8" />
<rect x="333.50" y="488.40" width="20.50" height="16.70" fill="#dcecf0" />
<rect x="354.00" y="488.40" width="20.50" height="16.70" fill="#94c6e2" />
<rect x="374.50" y="488.40" width="20.50" height="16.70" fill="#a4d0e6" />
<rect x="395.00" y="488.40" width="20.50" height="16.70" fill="#ecebc8" />
<rect x="415.50" y="488.40" width="20.50" height="16.70" fill="#fae28a" />
<rect x="57.00" y="488.40" width="8.00" height="16.70" fill="#1b4a84" />
<rect x="67.00" y="505.10" width="20.50" height="16.70" fill="#80b8de" />
<rect x="87.50" y="505.10" width="20.50" height="16.70" fill="#5898d0" />
<rect x="108.00" y="505.10" width="20.50" height="16.70" fill="#f8ea98" />
<rect x="128.50" y="505.10" width="20.50" height="16.70" fill="#5a98d0" />
<rect x="149.00" y="505.10" width="20.50" height="16.70" fill="#6aa6d6" />
<rect x="169.50" y="505.10" width="20.50" height="16.70" fill="#5a98d0" />
<rect x="190.00" y="505.10" width="20.50" height="16.70" fill="#94c6e2" />
<rect x="210.50" y="505.10" width="20.50" height="16.70" fill="#86bee0" />
<rect x="231.00" y="505.10" width="20.50" height="16.70" fill="#94c6e2" />
<rect x="251.50" y="505.10" width="20.50" height="16.70" fill="#9ccae4" />
<rect x="272.00" y="505.10" width="20.50" height="16.70" fill="#6aaad8" />
<rect x="292.50" y="505.10" width="20.50" height="16.70" fill="#80b8de" />
<rect x="313.00" y="505.10" width="20.50" height="16.70" fill="#4a88c8" />
<rect x="333.50" y="505.10" width="20.50" height="16.70" fill="#8cc2e2" />
<rect x="354.00" y="505.10" width="20.50" height="16.70" fill="#94c6e2" />
<rect x="374.50" y="505.10" width="20.50" height="16.70" fill="#94c6e2" />
<rect x="395.00" y="505.10" width="20.50" height="16.70" fill="#5494cc" />
<rect x="415.50" y="505.10" width="20.50" height="16.70" fill="#c4e2ee" />
<rect x="57.00" y="505.10" width="8.00" height="16.70" fill="#1b4a84" />
<rect x="67.00" y="521.80" width="20.50" height="16.70" fill="#a8d0e8" />
<rect x="87.50" y="521.80" width="20.50" height="16.70" fill="#c4e2ee" />
<rect x="108.00" y="521.80" width="20.50" height="16.70" fill="#f4ecb0" />
<rect x="128.50" y="521.80" width="20.50" height="16.70" fill="#a8d0e8" />
<rect x="149.00" y="521.80" width="20.50" height="16.70" fill="#3a78c0" />
<rect x="169.50" y="521.80" width="20.50" height="16.70" fill="#b4d8ec" />
<rect x="190.00" y="521.80" width="20.50" height="16.70" fill="#94c6e2" />
<rect x="210.50" y="521.80" width="20.50" height="16.70" fill="#86bee0" />
<rect x="231.00" y="521.80" width="20.50" height="16.70" fill="#74b2dc" />
<rect x="251.50" y="521.80" width="20.50" height="16.70" fill="#80b8de" />
<rect x="272.00" y="521.80" width="20.50" height="16.70" fill="#86bee0" />
<rect x="292.50" y="521.80" width="20.50" height="16.70" fill="#80b8de" />
<rect x="313.00" y="521.80" width="20.50" height="16.70" fill="#5898d0" />
<rect x="333.50" y="521.80" width="20.50" height="16.70" fill="#a4d0e6" />
<rect x="354.00" y="521.80" width="20.50" height="16.70" fill="#94c6e2" />
<rect x="374.50" y="521.80" width="20.50" height="16.70" fill="#94c6e2" />
<rect x="395.00" y="521.80" width="20.50" height="16.70" fill="#ecebc0" />
<rect x="415.50" y="521.80" width="20.50" height="16.70" fill="#a4d0e6" />
<rect x="57.00" y="521.80" width="8.00" height="16.70" fill="#d00c2c" />
<line x1="67.00" y1="438.30" x2="436.00" y2="438.30" stroke="rgba(140,140,140,0.42)" stroke-width="0.8" />
<line x1="57.00" y1="438.30" x2="65.00" y2="438.30" stroke="rgba(255,255,255,0)" stroke-width="0.8" />
<line x1="67.00" y1="455.00" x2="436.00" y2="455.00" stroke="rgba(140,140,140,0.42)" stroke-width="0.8" />
<line x1="57.00" y1="455.00" x2="65.00" y2="455.00" stroke="rgba(230,160,170,0.6)" stroke-width="0.8" />
<line x1="67.00" y1="471.70" x2="436.00" y2="471.70" stroke="rgba(140,140,140,0.42)" stroke-width="0.8" />
<line x1="57.00" y1="471.70" x2="65.00" y2="471.70" stroke="rgba(230,160,170,0.6)" stroke-width="0.8" />
<line x1="67.00" y1="488.40" x2="436.00" y2="488.40" stroke="rgba(140,140,140,0.42)" stroke-width="0.8" />
<line x1="57.00" y1="488.40" x2="65.00" y2="488.40" stroke="rgba(230,160,170,0.6)" stroke-width="0.8" />
<line x1="67.00" y1="505.10" x2="436.00" y2="505.10" stroke="rgba(140,140,140,0.42)" stroke-width="0.8" />
<line x1="57.00" y1="505.10" x2="65.00" y2="505.10" stroke="rgba(230,160,170,0.6)" stroke-width="0.8" />
<line x1="67.00" y1="521.80" x2="436.00" y2="521.80" stroke="rgba(140,140,140,0.42)" stroke-width="0.8" />
<line x1="57.00" y1="521.80" x2="65.00" y2="521.80" stroke="rgba(230,160,170,0.6)" stroke-width="0.8" />
<line x1="67.00" y1="538.50" x2="436.00" y2="538.50" stroke="rgba(140,140,140,0.42)" stroke-width="0.8" />
<line x1="57.00" y1="538.50" x2="65.00" y2="538.50" stroke="rgba(255,255,255,0)" stroke-width="0.8" />
<line x1="67.00" y1="438.30" x2="67.00" y2="538.50" stroke="rgba(140,140,140,0.42)" stroke-width="0.8" />
<line x1="87.50" y1="438.30" x2="87.50" y2="538.50" stroke="rgba(140,140,140,0.42)" stroke-width="0.8" />
<line x1="108.00" y1="438.30" x2="108.00" y2="538.50" stroke="rgba(140,140,140,0.42)" stroke-width="0.8" />
<line x1="128.50" y1="438.30" x2="128.50" y2="538.50" stroke="rgba(140,140,140,0.42)" stroke-width="0.8" />
<line x1="149.00" y1="438.30" x2="149.00" y2="538.50" stroke="rgba(140,140,140,0.42)" stroke-width="0.8" />
<line x1="169.50" y1="438.30" x2="169.50" y2="538.50" stroke="rgba(140,140,140,0.42)" stroke-width="0.8" />
<line x1="190.00" y1="438.30" x2="190.00" y2="538.50" stroke="rgba(140,140,140,0.42)" stroke-width="0.8" />
<line x1="210.50" y1="438.30" x2="210.50" y2="538.50" stroke="rgba(140,140,140,0.42)" stroke-width="0.8" />
<line x1="231.00" y1="438.30" x2="231.00" y2="538.50" stroke="rgba(140,140,140,0.42)" stroke-width="0.8" />
<line x1="251.50" y1="438.30" x2="251.50" y2="538.50" stroke="rgba(140,140,140,0.42)" stroke-width="0.8" />
<line x1="272.00" y1="438.30" x2="272.00" y2="538.50" stroke="rgba(140,140,140,0.42)" stroke-width="0.8" />
<line x1="292.50" y1="438.30" x2="292.50" y2="538.50" stroke="rgba(140,140,140,0.42)" stroke-width="0.8" />
<line x1="313.00" y1="438.30" x2="313.00" y2="538.50" stroke="rgba(140,140,140,0.42)" stroke-width="0.8" />
<line x1="333.50" y1="438.30" x2="333.50" y2="538.50" stroke="rgba(140,140,140,0.42)" stroke-width="0.8" />
<line x1="354.00" y1="438.30" x2="354.00" y2="538.50" stroke="rgba(140,140,140,0.42)" stroke-width="0.8" />
<line x1="374.50" y1="438.30" x2="374.50" y2="538.50" stroke="rgba(140,140,140,0.42)" stroke-width="0.8" />
<line x1="395.00" y1="438.30" x2="395.00" y2="538.50" stroke="rgba(140,140,140,0.42)" stroke-width="0.8" />
<line x1="415.50" y1="438.30" x2="415.50" y2="538.50" stroke="rgba(140,140,140,0.42)" stroke-width="0.8" />
<line x1="436.00" y1="438.30" x2="436.00" y2="538.50" stroke="rgba(140,140,140,0.42)" stroke-width="0.8" />
<rect x="67.00" y="543.00" width="20.50" height="16.70" fill="#e84028" />
<rect x="87.50" y="543.00" width="20.50" height="16.70" fill="#ee6034" />
<rect x="108.00" y="543.00" width="20.50" height="16.70" fill="#a4d0e6" />
<rect x="128.50" y="543.00" width="20.50" height="16.70" fill="#cce6f0" />
<rect x="149.00" y="543.00" width="20.50" height="16.70" fill="#f8ea98" />
<rect x="169.50" y="543.00" width="20.50" height="16.70" fill="#eef0cc" />
<rect x="190.00" y="543.00" width="20.50" height="16.70" fill="#a4d0e6" />
<rect x="210.50" y="543.00" width="20.50" height="16.70" fill="#a4d0e6" />
<rect x="231.00" y="543.00" width="20.50" height="16.70" fill="#a4d0e6" />
<rect x="251.50" y="543.00" width="20.50" height="16.70" fill="#cce6f0" />
<rect x="272.00" y="543.00" width="20.50" height="16.70" fill="#eef0c0" />
<rect x="292.50" y="543.00" width="20.50" height="16.70" fill="#f2f0b8" />
<rect x="313.00" y="543.00" width="20.50" height="16.70" fill="#f8ec98" />
<rect x="333.50" y="543.00" width="20.50" height="16.70" fill="#a4d0e6" />
<rect x="354.00" y="543.00" width="20.50" height="16.70" fill="#94c6e2" />
<rect x="374.50" y="543.00" width="20.50" height="16.70" fill="#a4d0e6" />
<rect x="395.00" y="543.00" width="20.50" height="16.70" fill="#f8e898" />
<rect x="415.50" y="543.00" width="20.50" height="16.70" fill="#80b8de" />
<rect x="57.00" y="543.00" width="8.00" height="16.70" fill="#d00c2c" />
<rect x="67.00" y="559.70" width="20.50" height="16.70" fill="#94c6e2" />
<rect x="87.50" y="559.70" width="20.50" height="16.70" fill="#e6eedc" />
<rect x="108.00" y="559.70" width="20.50" height="16.70" fill="#f8a858" />
<rect x="128.50" y="559.70" width="20.50" height="16.70" fill="#fde08a" />
<rect x="149.00" y="559.70" width="20.50" height="16.70" fill="#f4eeb8" />
<rect x="169.50" y="559.70" width="20.50" height="16.70" fill="#eef0cc" />
<rect x="190.00" y="559.70" width="20.50" height="16.70" fill="#94c6e2" />
<rect x="210.50" y="559.70" width="20.50" height="16.70" fill="#e2eedc" />
<rect x="231.00" y="559.70" width="20.50" height="16.70" fill="#f8eca0" />
<rect x="251.50" y="559.70" width="20.50" height="16.70" fill="#fdd068" />
<rect x="272.00" y="559.70" width="20.50" height="16.70" fill="#fdd068" />
<rect x="292.50" y="559.70" width="20.50" height="16.70" fill="#f4f0b8" />
<rect x="313.00" y="559.70" width="20.50" height="16.70" fill="#e8eed8" />
<rect x="333.50" y="559.70" width="20.50" height="16.70" fill="#d8ecf2" />
<rect x="354.00" y="559.70" width="20.50" height="16.70" fill="#a4d0e6" />
<rect x="374.50" y="559.70" width="20.50" height="16.70" fill="#c0e0ee" />
<rect x="395.00" y="559.70" width="20.50" height="16.70" fill="#5894cc" />
<rect x="415.50" y="559.70" width="20.50" height="16.70" fill="#5894cc" />
<rect x="57.00" y="559.70" width="8.00" height="16.70" fill="#d00c2c" />
<line x1="67.00" y1="543.00" x2="436.00" y2="543.00" stroke="rgba(140,140,140,0.42)" stroke-width="0.8" />
<line x1="57.00" y1="543.00" x2="65.00" y2="543.00" stroke="rgba(255,255,255,0)" stroke-width="0.8" />
<line x1="67.00" y1="559.70" x2="436.00" y2="559.70" stroke="rgba(140,140,140,0.42)" stroke-width="0.8" />
<line x1="57.00" y1="559.70" x2="65.00" y2="559.70" stroke="rgba(230,160,170,0.6)" stroke-width="0.8" />
<line x1="67.00" y1="576.40" x2="436.00" y2="576.40" stroke="rgba(140,140,140,0.42)" stroke-width="0.8" />
<line x1="57.00" y1="576.40" x2="65.00" y2="576.40" stroke="rgba(255,255,255,0)" stroke-width="0.8" />
<line x1="67.00" y1="543.00" x2="67.00" y2="576.40" stroke="rgba(140,140,140,0.42)" stroke-width="0.8" />
<line x1="87.50" y1="543.00" x2="87.50" y2="576.40" stroke="rgba(140,140,140,0.42)" stroke-width="0.8" />
<line x1="108.00" y1="543.00" x2="108.00" y2="576.40" stroke="rgba(140,140,140,0.42)" stroke-width="0.8" />
<line x1="128.50" y1="543.00" x2="128.50" y2="576.40" stroke="rgba(140,140,140,0.42)" stroke-width="0.8" />
<line x1="149.00" y1="543.00" x2="149.00" y2="576.40" stroke="rgba(140,140,140,0.42)" stroke-width="0.8" />
<line x1="169.50" y1="543.00" x2="169.50" y2="576.40" stroke="rgba(140,140,140,0.42)" stroke-width="0.8" />
<line x1="190.00" y1="543.00" x2="190.00" y2="576.40" stroke="rgba(140,140,140,0.42)" stroke-width="0.8" />
<line x1="210.50" y1="543.00" x2="210.50" y2="576.40" stroke="rgba(140,140,140,0.42)" stroke-width="0.8" />
<line x1="231.00" y1="543.00" x2="231.00" y2="576.40" stroke="rgba(140,140,140,0.42)" stroke-width="0.8" />
<line x1="251.50" y1="543.00" x2="251.50" y2="576.40" stroke="rgba(140,140,140,0.42)" stroke-width="0.8" />
<line x1="272.00" y1="543.00" x2="272.00" y2="576.40" stroke="rgba(140,140,140,0.42)" stroke-width="0.8" />
<line x1="292.50" y1="543.00" x2="292.50" y2="576.40" stroke="rgba(140,140,140,0.42)" stroke-width="0.8" />
<line x1="313.00" y1="543.00" x2="313.00" y2="576.40" stroke="rgba(140,140,140,0.42)" stroke-width="0.8" />
<line x1="333.50" y1="543.00" x2="333.50" y2="576.40" stroke="rgba(140,140,140,0.42)" stroke-width="0.8" />
<line x1="354.00" y1="543.00" x2="354.00" y2="576.40" stroke="rgba(140,140,140,0.42)" stroke-width="0.8" />
<line x1="374.50" y1="543.00" x2="374.50" y2="576.40" stroke="rgba(140,140,140,0.42)" stroke-width="0.8" />
<line x1="395.00" y1="543.00" x2="395.00" y2="576.40" stroke="rgba(140,140,140,0.42)" stroke-width="0.8" />
<line x1="415.50" y1="543.00" x2="415.50" y2="576.40" stroke="rgba(140,140,140,0.42)" stroke-width="0.8" />
<line x1="436.00" y1="543.00" x2="436.00" y2="576.40" stroke="rgba(140,140,140,0.42)" stroke-width="0.8" />
<line x1="77.25" y1="400.60" x2="77.25" y2="383.50" stroke="#333" stroke-width="1.0" />
<line x1="97.75" y1="400.60" x2="97.75" y2="383.50" stroke="#333" stroke-width="1.0" />
<line x1="77.25" y1="383.50" x2="97.75" y2="383.50" stroke="#333" stroke-width="1.0" />
<line x1="118.25" y1="400.60" x2="118.25" y2="374.00" stroke="#333" stroke-width="1.0" />
<line x1="138.75" y1="400.60" x2="138.75" y2="374.00" stroke="#333" stroke-width="1.0" />
<line x1="118.25" y1="374.00" x2="138.75" y2="374.00" stroke="#333" stroke-width="1.0" />
<line x1="159.25" y1="400.60" x2="159.25" y2="386.90" stroke="#333" stroke-width="1.0" />
<line x1="179.75" y1="400.60" x2="179.75" y2="386.90" stroke="#333" stroke-width="1.0" />
<line x1="159.25" y1="386.90" x2="179.75" y2="386.90" stroke="#333" stroke-width="1.0" />
<line x1="220.75" y1="400.60" x2="220.75" y2="396.30" stroke="#333" stroke-width="1.0" />
<line x1="241.25" y1="400.60" x2="241.25" y2="396.30" stroke="#333" stroke-width="1.0" />
<line x1="220.75" y1="396.30" x2="241.25" y2="396.30" stroke="#333" stroke-width="1.0" />
<line x1="200.25" y1="400.60" x2="200.25" y2="391.30" stroke="#333" stroke-width="1.0" />
<line x1="231.00" y1="396.30" x2="231.00" y2="391.30" stroke="#333" stroke-width="1.0" />
<line x1="200.25" y1="391.30" x2="231.00" y2="391.30" stroke="#333" stroke-width="1.0" />
<line x1="261.75" y1="400.60" x2="261.75" y2="392.40" stroke="#333" stroke-width="1.0" />
<line x1="282.25" y1="400.60" x2="282.25" y2="392.40" stroke="#333" stroke-width="1.0" />
<line x1="261.75" y1="392.40" x2="282.25" y2="392.40" stroke="#333" stroke-width="1.0" />
<line x1="302.75" y1="400.60" x2="302.75" y2="391.50" stroke="#333" stroke-width="1.0" />
<line x1="323.25" y1="400.60" x2="323.25" y2="391.50" stroke="#333" stroke-width="1.0" />
<line x1="302.75" y1="391.50" x2="323.25" y2="391.50" stroke="#333" stroke-width="1.0" />
<line x1="272.00" y1="392.40" x2="272.00" y2="386.80" stroke="#333" stroke-width="1.0" />
<line x1="313.00" y1="391.50" x2="313.00" y2="386.80" stroke="#333" stroke-width="1.0" />
<line x1="272.00" y1="386.80" x2="313.00" y2="386.80" stroke="#333" stroke-width="1.0" />
<line x1="215.62" y1="391.30" x2="215.62" y2="383.50" stroke="#333" stroke-width="1.0" />
<line x1="292.50" y1="386.80" x2="292.50" y2="383.50" stroke="#333" stroke-width="1.0" />
<line x1="215.62" y1="383.50" x2="292.50" y2="383.50" stroke="#333" stroke-width="1.0" />
<line x1="169.50" y1="386.90" x2="169.50" y2="381.40" stroke="#333" stroke-width="1.0" />
<line x1="254.06" y1="383.50" x2="254.06" y2="381.40" stroke="#333" stroke-width="1.0" />
<line x1="169.50" y1="381.40" x2="254.06" y2="381.40" stroke="#333" stroke-width="1.0" />
<line x1="364.25" y1="400.60" x2="364.25" y2="396.20" stroke="#333" stroke-width="1.0" />
<line x1="384.75" y1="400.60" x2="384.75" y2="396.20" stroke="#333" stroke-width="1.0" />
<line x1="364.25" y1="396.20" x2="384.75" y2="396.20" stroke="#333" stroke-width="1.0" />
<line x1="343.75" y1="400.60" x2="343.75" y2="385.80" stroke="#333" stroke-width="1.0" />
<line x1="374.50" y1="396.20" x2="374.50" y2="385.80" stroke="#333" stroke-width="1.0" />
<line x1="343.75" y1="385.80" x2="374.50" y2="385.80" stroke="#333" stroke-width="1.0" />
<line x1="405.25" y1="400.60" x2="405.25" y2="384.20" stroke="#333" stroke-width="1.0" />
<line x1="425.75" y1="400.60" x2="425.75" y2="384.20" stroke="#333" stroke-width="1.0" />
<line x1="405.25" y1="384.20" x2="425.75" y2="384.20" stroke="#333" stroke-width="1.0" />
<line x1="359.12" y1="385.80" x2="359.12" y2="378.50" stroke="#333" stroke-width="1.0" />
<line x1="415.50" y1="384.20" x2="415.50" y2="378.50" stroke="#333" stroke-width="1.0" />
<line x1="359.12" y1="378.50" x2="415.50" y2="378.50" stroke="#333" stroke-width="1.0" />
<line x1="211.78" y1="381.40" x2="211.78" y2="372.70" stroke="#333" stroke-width="1.0" />
<line x1="387.31" y1="378.50" x2="387.31" y2="372.70" stroke="#333" stroke-width="1.0" />
<line x1="211.78" y1="372.70" x2="387.31" y2="372.70" stroke="#333" stroke-width="1.0" />
<line x1="128.50" y1="374.00" x2="128.50" y2="370.50" stroke="#333" stroke-width="1.0" />
<line x1="299.55" y1="372.70" x2="299.55" y2="370.50" stroke="#333" stroke-width="1.0" />
<line x1="128.50" y1="370.50" x2="299.55" y2="370.50" stroke="#333" stroke-width="1.0" />
<line x1="87.50" y1="383.50" x2="87.50" y2="363.40" stroke="#333" stroke-width="1.0" />
<line x1="214.02" y1="370.50" x2="214.02" y2="363.40" stroke="#333" stroke-width="1.0" />
<line x1="87.50" y1="363.40" x2="214.02" y2="363.40" stroke="#333" stroke-width="1.0" />
<line x1="56.00" y1="409.45" x2="37.80" y2="409.45" stroke="#333" stroke-width="1.0" />
<line x1="56.00" y1="426.15" x2="37.80" y2="426.15" stroke="#333" stroke-width="1.0" />
<line x1="37.80" y1="409.45" x2="37.80" y2="426.15" stroke="#333" stroke-width="1.0" />
<line x1="56.00" y1="463.35" x2="48.00" y2="463.35" stroke="#333" stroke-width="1.0" />
<line x1="56.00" y1="480.05" x2="48.00" y2="480.05" stroke="#333" stroke-width="1.0" />
<line x1="48.00" y1="463.35" x2="48.00" y2="480.05" stroke="#333" stroke-width="1.0" />
<line x1="56.00" y1="513.45" x2="49.80" y2="513.45" stroke="#333" stroke-width="1.0" />
<line x1="56.00" y1="530.15" x2="49.80" y2="530.15" stroke="#333" stroke-width="1.0" />
<line x1="49.80" y1="513.45" x2="49.80" y2="530.15" stroke="#333" stroke-width="1.0" />
<line x1="56.00" y1="496.75" x2="46.30" y2="496.75" stroke="#333" stroke-width="1.0" />
<line x1="49.80" y1="521.80" x2="46.30" y2="521.80" stroke="#333" stroke-width="1.0" />
<line x1="46.30" y1="496.75" x2="46.30" y2="521.80" stroke="#333" stroke-width="1.0" />
<line x1="48.00" y1="471.70" x2="44.80" y2="471.70" stroke="#333" stroke-width="1.0" />
<line x1="46.30" y1="509.27" x2="44.80" y2="509.27" stroke="#333" stroke-width="1.0" />
<line x1="44.80" y1="471.70" x2="44.80" y2="509.27" stroke="#333" stroke-width="1.0" />
<line x1="56.00" y1="446.65" x2="43.30" y2="446.65" stroke="#333" stroke-width="1.0" />
<line x1="44.80" y1="490.49" x2="43.30" y2="490.49" stroke="#333" stroke-width="1.0" />
<line x1="43.30" y1="446.65" x2="43.30" y2="490.49" stroke="#333" stroke-width="1.0" />
<line x1="56.00" y1="551.35" x2="38.30" y2="551.35" stroke="#333" stroke-width="1.0" />
<line x1="56.00" y1="568.05" x2="38.30" y2="568.05" stroke="#333" stroke-width="1.0" />
<line x1="38.30" y1="551.35" x2="38.30" y2="568.05" stroke="#333" stroke-width="1.0" />
<line x1="43.30" y1="468.57" x2="34.80" y2="468.57" stroke="#333" stroke-width="1.0" />
<line x1="38.30" y1="559.70" x2="34.80" y2="559.70" stroke="#333" stroke-width="1.0" />
<line x1="34.80" y1="468.57" x2="34.80" y2="559.70" stroke="#333" stroke-width="1.0" />
<line x1="37.80" y1="417.80" x2="18.40" y2="417.80" stroke="#333" stroke-width="1.0" />
<line x1="34.80" y1="514.13" x2="18.40" y2="514.13" stroke="#333" stroke-width="1.0" />
<line x1="18.40" y1="417.80" x2="18.40" y2="514.13" stroke="#333" stroke-width="1.0" />
<text x="80.25" y="583.00" font-size="8.2" fill="#222" text-anchor="end" font-weight="normal" stroke="#222" stroke-width="0.18" transform="rotate(-45 80.25 583.00)" >IL18</text>
<text x="100.75" y="583.00" font-size="8.2" fill="#222" text-anchor="end" font-weight="normal" stroke="#222" stroke-width="0.18" transform="rotate(-45 100.75 583.00)" >IL15</text>
<text x="121.25" y="583.00" font-size="8.2" fill="#222" text-anchor="end" font-weight="normal" stroke="#222" stroke-width="0.18" transform="rotate(-45 121.25 583.00)" >IFNg</text>
<text x="141.75" y="583.00" font-size="8.2" fill="#222" text-anchor="end" font-weight="normal" stroke="#222" stroke-width="0.18" transform="rotate(-45 141.75 583.00)" >IL2</text>
<text x="162.25" y="583.00" font-size="8.2" fill="#222" text-anchor="end" font-weight="normal" stroke="#222" stroke-width="0.18" transform="rotate(-45 162.25 583.00)" >IL18BP</text>
<text x="182.75" y="583.00" font-size="8.2" fill="#222" text-anchor="end" font-weight="normal" stroke="#222" stroke-width="0.18" transform="rotate(-45 182.75 583.00)" >Ferritin</text>
<text x="203.25" y="583.00" font-size="8.2" fill="#222" text-anchor="end" font-weight="normal" stroke="#222" stroke-width="0.18" transform="rotate(-45 203.25 583.00)" >IL4</text>
<text x="223.75" y="583.00" font-size="8.2" fill="#222" text-anchor="end" font-weight="normal" stroke="#222" stroke-width="0.18" transform="rotate(-45 223.75 583.00)" >IL1b</text>
<text x="244.25" y="583.00" font-size="8.2" fill="#222" text-anchor="end" font-weight="normal" stroke="#222" stroke-width="0.18" transform="rotate(-45 244.25 583.00)" >IL8</text>
<text x="264.75" y="583.00" font-size="8.2" fill="#222" text-anchor="end" font-weight="normal" stroke="#222" stroke-width="0.18" transform="rotate(-45 264.75 583.00)" >IL10</text>
<text x="285.25" y="583.00" font-size="8.2" fill="#222" text-anchor="end" font-weight="normal" stroke="#222" stroke-width="0.18" transform="rotate(-45 285.25 583.00)" >MIP1a</text>
<text x="305.75" y="583.00" font-size="8.2" fill="#222" text-anchor="end" font-weight="normal" stroke="#222" stroke-width="0.18" transform="rotate(-45 305.75 583.00)" >IL6</text>
<text x="326.25" y="583.00" font-size="8.2" fill="#222" text-anchor="end" font-weight="normal" stroke="#222" stroke-width="0.18" transform="rotate(-45 326.25 583.00)" >TNFa</text>
<text x="346.75" y="583.00" font-size="8.2" fill="#222" text-anchor="end" font-weight="normal" stroke="#222" stroke-width="0.18" transform="rotate(-45 346.75 583.00)" >GMCSF</text>
<text x="367.25" y="583.00" font-size="8.2" fill="#222" text-anchor="end" font-weight="normal" stroke="#222" stroke-width="0.18" transform="rotate(-45 367.25 583.00)" >IL12</text>
<text x="387.75" y="583.00" font-size="8.2" fill="#222" text-anchor="end" font-weight="normal" stroke="#222" stroke-width="0.18" transform="rotate(-45 387.75 583.00)" >IL13</text>
<text x="408.25" y="583.00" font-size="8.2" fill="#222" text-anchor="end" font-weight="normal" stroke="#222" stroke-width="0.18" transform="rotate(-45 408.25 583.00)" >Free IL18</text>
<text x="428.75" y="583.00" font-size="8.2" fill="#222" text-anchor="end" font-weight="normal" stroke="#222" stroke-width="0.18" transform="rotate(-45 428.75 583.00)" >CRP</text>
<text x="64.20" y="583.30" font-size="7.6" fill="#111" text-anchor="end" font-weight="bold" transform="rotate(-45 64.20 583.30)" >Group</text>
<rect x="439.80" y="401.20" width="6.80" height="106.60" fill="url(#gB)" />
<text x="450.30" y="423.70" font-size="7.5" fill="#333" text-anchor="start" font-weight="normal" stroke="#333" stroke-width="0.18" >2</text>
<text x="450.30" y="448.70" font-size="7.5" fill="#333" text-anchor="start" font-weight="normal" stroke="#333" stroke-width="0.18" >1</text>
<text x="450.30" y="473.70" font-size="7.5" fill="#333" text-anchor="start" font-weight="normal" stroke="#333" stroke-width="0.18" >0</text>
<text x="450.30" y="498.70" font-size="7.5" fill="#333" text-anchor="start" font-weight="normal" stroke="#333" stroke-width="0.18" >−1</text>
<text x="464.40" y="404.80" font-size="7.5" fill="#111" text-anchor="start" font-weight="bold" >Group</text>
<rect x="464.20" y="410.40" width="12.00" height="12.00" fill="#d00c2c" />
<rect x="464.20" y="422.40" width="12.00" height="12.00" fill="#1b4a84" />
<text x="479.60" y="418.80" font-size="7.5" fill="#333" text-anchor="start" font-weight="normal" stroke="#333" stroke-width="0.18" >CAR-HLH</text>
<text x="479.60" y="431.00" font-size="7.5" fill="#333" text-anchor="start" font-weight="normal" stroke="#333" stroke-width="0.18" >CRS only</text>
<rect x="0.5" y="0.5" width="519" height="613" fill="none" stroke="#444" stroke-width="1"/>
</svg>
</body></html>
